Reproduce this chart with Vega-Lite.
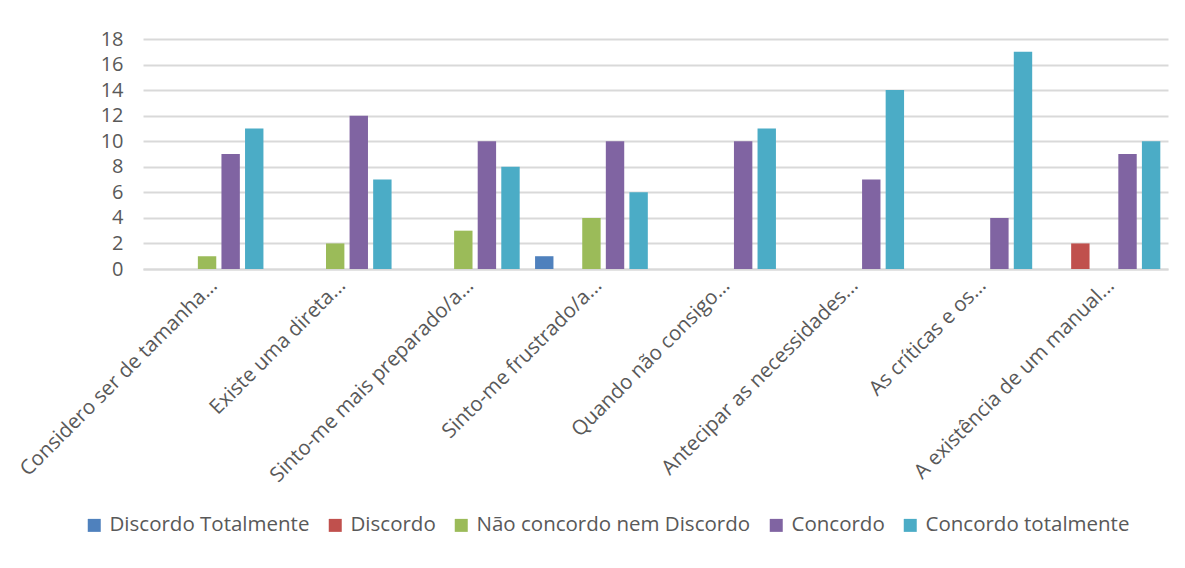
{
  "$schema": "https://vega.github.io/schema/vega-lite/v6.json",
  "width": 1025,
  "height": 230,
  "autosize": {"type": "none"},
  "padding": {"left": 143, "top": 39, "right": 17, "bottom": 299},
  "background": "white",
  "data": {
    "values": [
      {"q": "Considero ser de tamanha...", "s": "Discordo Totalmente", "v": 0},
      {"q": "Considero ser de tamanha...", "s": "Discordo", "v": 0},
      {"q": "Considero ser de tamanha...", "s": "Não concordo nem Discordo", "v": 1},
      {"q": "Considero ser de tamanha...", "s": "Concordo", "v": 9},
      {"q": "Considero ser de tamanha...", "s": "Concordo totalmente", "v": 11},
      {"q": "Existe uma direta...", "s": "Discordo Totalmente", "v": 0},
      {"q": "Existe uma direta...", "s": "Discordo", "v": 0},
      {"q": "Existe uma direta...", "s": "Não concordo nem Discordo", "v": 2},
      {"q": "Existe uma direta...", "s": "Concordo", "v": 12},
      {"q": "Existe uma direta...", "s": "Concordo totalmente", "v": 7},
      {"q": "Sinto-me mais preparado/a...", "s": "Discordo Totalmente", "v": 0},
      {"q": "Sinto-me mais preparado/a...", "s": "Discordo", "v": 0},
      {"q": "Sinto-me mais preparado/a...", "s": "Não concordo nem Discordo", "v": 3},
      {"q": "Sinto-me mais preparado/a...", "s": "Concordo", "v": 10},
      {"q": "Sinto-me mais preparado/a...", "s": "Concordo totalmente", "v": 8},
      {"q": "Sinto-me frustrado/a...", "s": "Discordo Totalmente", "v": 1},
      {"q": "Sinto-me frustrado/a...", "s": "Discordo", "v": 0},
      {"q": "Sinto-me frustrado/a...", "s": "Não concordo nem Discordo", "v": 4},
      {"q": "Sinto-me frustrado/a...", "s": "Concordo", "v": 10},
      {"q": "Sinto-me frustrado/a...", "s": "Concordo totalmente", "v": 6},
      {"q": "Quando não consigo...", "s": "Discordo Totalmente", "v": 0},
      {"q": "Quando não consigo...", "s": "Discordo", "v": 0},
      {"q": "Quando não consigo...", "s": "Não concordo nem Discordo", "v": 0},
      {"q": "Quando não consigo...", "s": "Concordo", "v": 10},
      {"q": "Quando não consigo...", "s": "Concordo totalmente", "v": 11},
      {"q": "Antecipar as necessidades...", "s": "Discordo Totalmente", "v": 0},
      {"q": "Antecipar as necessidades...", "s": "Discordo", "v": 0},
      {"q": "Antecipar as necessidades...", "s": "Não concordo nem Discordo", "v": 0},
      {"q": "Antecipar as necessidades...", "s": "Concordo", "v": 7},
      {"q": "Antecipar as necessidades...", "s": "Concordo totalmente", "v": 14},
      {"q": "As críticas e os...", "s": "Discordo Totalmente", "v": 0},
      {"q": "As críticas e os...", "s": "Discordo", "v": 0},
      {"q": "As críticas e os...", "s": "Não concordo nem Discordo", "v": 0},
      {"q": "As críticas e os...", "s": "Concordo", "v": 4},
      {"q": "As críticas e os...", "s": "Concordo totalmente", "v": 17},
      {"q": "A existência de um manual...", "s": "Discordo Totalmente", "v": 0},
      {"q": "A existência de um manual...", "s": "Discordo", "v": 2},
      {"q": "A existência de um manual...", "s": "Não concordo nem Discordo", "v": 0},
      {"q": "A existência de um manual...", "s": "Concordo", "v": 9},
      {"q": "A existência de um manual...", "s": "Concordo totalmente", "v": 10}
    ]
  },
  "mark": {"type": "bar"},
  "encoding": {
    "x": {
      "field": "q", "type": "nominal", "sort": null,
      "scale": {"paddingInner": 0.12, "paddingOuter": 0.06},
      "axis": {"title": null, "labelAngle": -45, "ticks": false, "domainColor": "#d9d9d9", "domainWidth": 2, "labelPadding": 6, "labelFontSize": 20.5, "labelColor": "#595959", "labelFont": "Open Sans", "labelLimit": 400}
    },
    "xOffset": {
      "field": "s", "type": "nominal",
      "sort": ["Discordo Totalmente", "Discordo", "Não concordo nem Discordo", "Concordo", "Concordo totalmente"],
      "scale": {"paddingInner": 0.22, "paddingOuter": 0}
    },
    "y": {
      "field": "v", "type": "quantitative",
      "scale": {"domain": [0, 18], "nice": false},
      "axis": {"title": null, "values": [0,2,4,6,8,10,12,14,16,18], "domain": false, "ticks": false, "gridColor": "#d9d9d9", "gridWidth": 2, "labelFontSize": 20, "labelColor": "#595959", "labelFont": "Open Sans", "labelPadding": 20}
    },
    "color": {
      "field": "s", "type": "nominal",
      "sort": ["Discordo Totalmente", "Discordo", "Não concordo nem Discordo", "Concordo", "Concordo totalmente"],
      "scale": {"domain": ["Discordo Totalmente", "Discordo", "Não concordo nem Discordo", "Concordo", "Concordo totalmente"], "range": ["#4F81BD", "#C0504D", "#9BBB59", "#8064A2", "#4BACC6"]},
      "legend": {
        "title": null, "orient": "none", "direction": "horizontal", "legendX": -59, "legendY": 476,
        "symbolType": "square", "symbolSize": 169, "symbolStrokeWidth": 0,
        "labelFontSize": 20.5, "labelColor": "#595959", "labelFont": "Open Sans", "labelOffset": 5, "columnPadding": 15, "labelLimit": 400
      }
    }
  },
  "config": {"view": {"stroke": null}}
}
